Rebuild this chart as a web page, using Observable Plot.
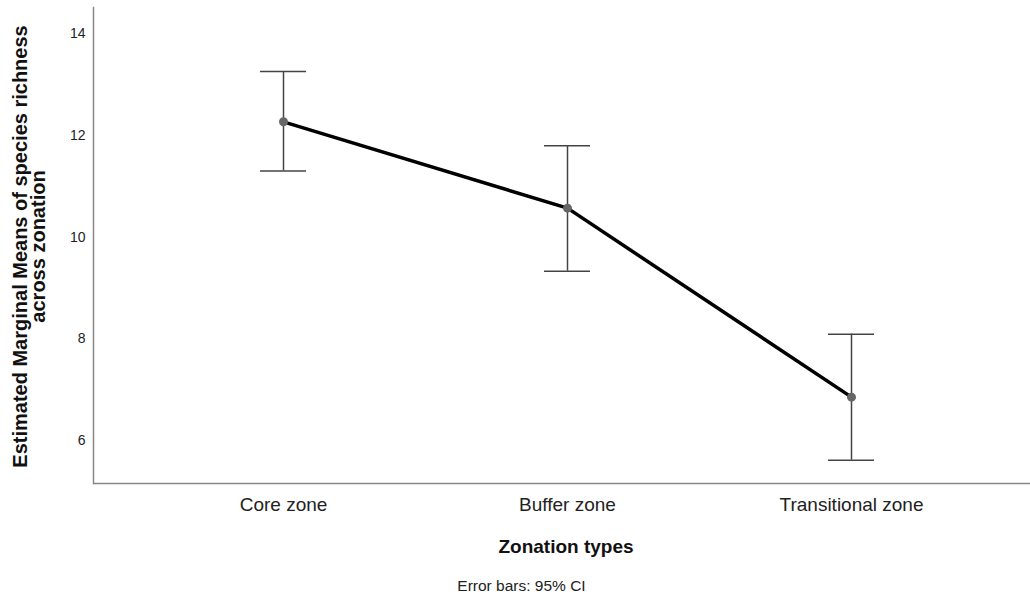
<!DOCTYPE html>
<html>
<head>
<meta charset="utf-8">
<script src="https://cdn.jsdelivr.net/npm/d3@7"></script>
<script src="https://cdn.jsdelivr.net/npm/@observablehq/plot@0.6"></script>
<style>
  html, body { margin: 0; padding: 0; background: #fff; }
  #wrap { width: 1030px; font-family: "Liberation Sans", Arial, sans-serif; }
  #caption { width: 1030px; text-align: center; font-size: 15.5px; line-height: 18px; color: #222; margin-top: 17px; padding-left: 13px; box-sizing: border-box; }
</style>
</head>
<body>
<div id="wrap"></div>
<script>
const zones = ["Core zone", "Buffer zone", "Transitional zone"];
const means = [12.27, 10.57, 6.85];
const lower = [11.30, 9.33, 5.61];
const upper = [13.26, 11.80, 8.09];
const yTicks = [6, 8, 10, 12, 14];
const xTitle = "Zonation types";
const yTitle = "Estimated Marginal Means of species richness\nacross zonation";
const captionText = "Error bars: 95% CI";

const data = zones.map((z, i) => ({zone: z, mean: means[i], lower: lower[i], upper: upper[i]}));
const yMin = 5.15, yMax = 14.52;

const chart = Plot.plot({
  width: 1030,
  height: 560,
  marginLeft: 93,
  marginRight: 0,
  marginTop: 7,
  marginBottom: 77,
  style: {fontFamily: "'Liberation Sans', Arial, sans-serif", color: "#222", background: "#fff"},
  x: {type: "band", domain: zones, paddingInner: 0.838, paddingOuter: 0.5675, align: 0.5155},
  y: {domain: [yMin, yMax]},
  marks: [
    Plot.ruleY([yMin], {stroke: "#888", strokeWidth: 1.5}),
    Plot.frame({anchor: "left", stroke: "#888", strokeWidth: 1.5}),
    Plot.axisY({ticks: yTicks, tickSize: 0, tickPadding: 8, fontSize: 14, label: null}),
    Plot.axisX({tickSize: 0, tickPadding: 14, fontSize: 19, label: null}),
    Plot.ruleX(data, {x: "zone", y1: "lower", y2: "upper", stroke: "#444", strokeWidth: 1.5}),
    Plot.tickY(data, {x: "zone", y: "upper", stroke: "#444", strokeWidth: 1.5}),
    Plot.tickY(data, {x: "zone", y: "lower", stroke: "#444", strokeWidth: 1.5}),
    Plot.line(data, {x: "zone", y: "mean", stroke: "#000", strokeWidth: 3.5}),
    Plot.dot(data, {x: "zone", y: "mean", r: 4.5, fill: "#666", stroke: "none"}),
    Plot.text([xTitle], {frameAnchor: "bottom", dx: 4, dy: 69, fontSize: 19, fontWeight: "bold", fill: "#111"}),
    Plot.text([yTitle], {frameAnchor: "left", rotate: -90, dx: -63, dy: 1, fontSize: 20, fontWeight: "bold", lineHeight: 0.9, textAnchor: "middle", lineAnchor: "middle", fill: "#111"})
  ]
});
document.getElementById("wrap").appendChild(chart);
const cap = document.createElement("div");
cap.id = "caption";
cap.textContent = captionText;
document.getElementById("wrap").appendChild(cap);
</script>
</body>
</html>
